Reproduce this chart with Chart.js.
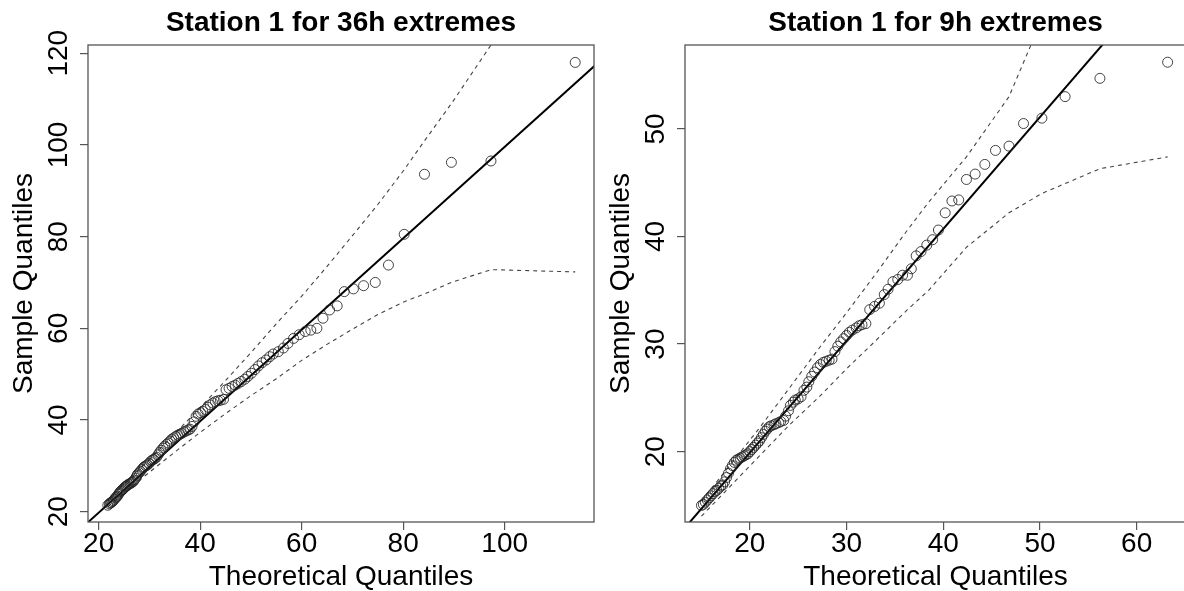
<!DOCTYPE html>
<html lang="en">
<head>
<meta charset="UTF-8">
<title>Station 1 QQ plots</title>
<style>
  html, body { margin: 0; padding: 0; background: #fff; overflow: hidden; }
  .panel { position: absolute; top: 0; height: 591px; }
  #p1 { left: 0; width: 600px; }
  #p2 { left: 597px; width: 595px; }
</style>
</head>
<body>
<div class="panel" id="p1"><canvas id="c1"></canvas></div>
<div class="panel" id="p2"><canvas id="c2"></canvas></div>

<script src="https://cdn.jsdelivr.net/npm/chart.js"></script>
<script>
// ---- 36h extremes (left) ----
const q36 = [21.8,22.1,22.3,22.5,22.7,22.9,23.1,23.3,23.5,23.7,23.9,24.1,24.3,24.5,24.7,24.9,25.1,25.3,25.5,25.7,
  25.9,26.2,26.4,26.6,26.8,27.0,27.3,27.5,27.7,28.0,28.2,28.5,28.8,29.0,29.3,29.6,29.9,30.2,30.5,30.8,
  31.1,31.4,31.7,32.0,32.3,32.7,33.0,33.4,33.7,34.1,34.4,34.8,35.2,35.6,36.0,36.4,36.8,37.2,37.6,38.0,
  38.4,38.8,39.2,39.6,40.1,40.5,41.0,41.5,42.0,42.5,43.0,43.5,44.0,44.6,45.1,45.7,46.3,46.9,47.5,48.1,
  48.8,49.4,50.1,50.8,51.5,52.2,53.0,53.7,54.4,55.4,56.4,57.3,58.4,59.5,60.7,61.8,63.0,64.2,65.5,67.0,
  68.4,70.2,72.2,74.5,77.1,80.2,84.2,89.5,97.3,113.9];
const s36 = [21.4,21.7,21.9,22.0,22.2,22.4,22.7,23.0,23.2,23.4,23.8,24.1,24.4,24.6,24.8,25.0,25.3,25.5,25.6,25.8,
  26.0,26.1,26.3,26.4,26.6,26.9,27.3,27.8,28.2,28.5,28.8,29.2,29.6,29.8,30.0,30.2,30.5,30.9,31.2,31.4,
  31.6,31.9,32.4,32.9,33.4,33.9,34.3,34.7,35.0,35.4,35.8,36.1,36.4,36.7,36.9,37.1,37.4,37.6,37.8,38.0,
  38.6,39.6,40.8,41.3,41.6,41.9,42.3,42.8,43.3,43.7,44.0,44.2,44.3,44.5,46.6,46.9,47.3,47.6,48.0,48.4,
  48.9,49.5,50.2,51.0,51.8,52.5,53.1,53.8,54.4,54.9,55.7,56.7,57.8,58.6,59.3,59.6,60.0,62.2,64.0,64.9,
  68.0,68.6,69.3,70.0,73.8,80.5,93.6,96.2,96.5,118.0];
const env36X  = [21.8,25,28,31,35,40,45,50,55,60,65,70,75,80.2,84.2,89.5,97.3,113.9];
const env36Lo = [21.1,24.0,26.8,29.5,33.0,37.3,41.4,45.3,49.0,53.0,56.5,59.8,63.0,65.8,67.5,70.0,72.8,72.3];
const env36Hi = [22.5,26.0,29.2,32.5,37.0,42.7,48.6,54.7,61.0,67.0,73.5,80.2,87.0,94.6,100.9,109.0,121.8,155.5];
const fit36X = [15, 125];
const fit36Y = [14.8, 124.5];
const xTicks36 = [20, 40, 60, 80, 100];
const yTicks36 = [20, 40, 60, 80, 100, 120];

// ---- 9h extremes (right) ----
const q9 = [15.0,15.2,15.4,15.6,15.8,16.0,16.2,16.4,16.6,16.8,17.0,17.2,17.4,17.6,17.8,18.0,18.2,18.4,18.6,18.8,
  19.0,19.2,19.4,19.6,19.8,20.0,20.2,20.4,20.6,20.8,21.0,21.2,21.4,21.6,21.8,22.0,22.2,22.5,22.7,23.0,
  23.2,23.5,23.7,24.0,24.2,24.5,24.7,25.0,25.3,25.6,25.9,26.1,26.4,26.7,27.0,27.3,27.6,27.9,28.2,28.5,
  28.8,29.1,29.4,29.7,30.0,30.3,30.6,31.0,31.3,31.6,32.0,32.4,32.9,33.4,33.9,34.3,34.8,35.3,35.8,36.3,
  36.7,37.2,37.7,38.3,38.9,39.5,40.2,40.9,41.6,42.4,43.3,44.3,45.4,46.8,48.3,50.2,52.6,56.2,63.2];
const s9 = [15.0,15.1,15.3,15.5,15.7,15.9,16.1,16.3,16.4,16.6,16.8,16.9,17.2,17.6,18.0,18.4,18.7,19.0,19.2,19.3,
  19.4,19.5,19.6,19.7,19.8,20.0,20.2,20.4,20.6,20.8,21.0,21.3,21.6,21.9,22.1,22.3,22.4,22.5,22.6,22.7,
  22.8,22.9,23.3,23.8,24.3,24.6,24.8,24.9,25.1,25.7,26.0,26.5,27.0,27.4,27.8,28.1,28.3,28.4,28.5,28.6,
  29.3,29.8,30.2,30.5,30.8,31.1,31.3,31.5,31.7,31.8,31.9,33.2,33.5,33.8,34.6,35.1,35.8,36.0,36.4,36.4,
  37.0,38.2,38.6,39.2,39.7,40.6,42.2,43.3,43.4,45.3,45.8,46.7,48.0,48.4,50.5,51.0,53.0,54.7,56.2];
const env9X  = [15.0,18.0,21.0,24.0,27.4,30.0,33.0,36.3,38.5,42.4,46.8,50.2,56.2,63.2];
const env9Lo = [14.0,16.8,19.6,22.4,25.3,27.7,30.3,33.2,35.0,39.0,42.2,44.0,46.3,47.4];
const env9Hi = [15.4,18.8,22.2,25.8,29.9,32.9,36.5,40.6,43.2,47.4,53.0,60.2,68.7,82.2];
const fit9X = [12, 70];
const fit9Y = [11.58, 71.9];
const xTicks9 = [20, 30, 40, 50, 60];
const yTicks9 = [20, 30, 40, 50];

const FONT = '"Liberation Sans", Arial, Helvetica, sans-serif';

const pairs = (xs, ys) => xs.map((x, i) => ({x: x, y: ys[i]}));

// box around plot area, title over the box, R-style tick labels (y labels rotated)
const rStyle = {
  id: 'rStyle',
  afterDraw(chart) {
    const {ctx, chartArea: a, scales} = chart;
    ctx.save();
    ctx.strokeStyle = '#555';
    ctx.lineWidth = 1.3;
    ctx.strokeRect(a.left, a.top, a.right - a.left, a.bottom - a.top);
    ctx.fillStyle = '#000';
    ctx.textAlign = 'center';
    ctx.textBaseline = 'middle';
    ctx.font = 'bold 28px ' + FONT;
    ctx.fillText(chart.options.plugins.rStyle.title, (a.left + a.right) / 2, 23);
    ctx.font = '28px ' + FONT;
    scales.x.ticks.forEach(t => {
      ctx.fillText(String(t.value), scales.x.getPixelForValue(t.value), a.bottom + 22);
    });
    scales.y.ticks.forEach(t => {
      ctx.save();
      ctx.translate(a.left - 29, scales.y.getPixelForValue(t.value));
      ctx.rotate(-Math.PI / 2);
      ctx.fillText(String(t.value), 0, 0);
      ctx.restore();
    });
    ctx.restore();
  }
};

function qqChart(id, title, q, s, envX, envLo, envHi, fitX, fitY, xr, yr, xt, yt) {
  return new Chart(document.getElementById(id), {
    type: 'scatter',
    data: {
      datasets: [
        { data: pairs(q, s), pointStyle: 'circle', pointRadius: 5, borderWidth: 1,
          borderColor: 'rgba(35,35,35,0.85)', backgroundColor: 'rgba(0,0,0,0)' },
        { data: pairs(fitX, fitY), showLine: true, pointRadius: 0, borderColor: '#000', borderWidth: 2 },
        { data: pairs(envX, envHi), showLine: true, pointRadius: 0, borderColor: '#444', borderWidth: 1.1, borderDash: [4, 4] },
        { data: pairs(envX, envLo), showLine: true, pointRadius: 0, borderColor: '#444', borderWidth: 1.1, borderDash: [4, 4] }
      ]
    },
    options: {
      responsive: true,
      maintainAspectRatio: false,
      animation: false,
      layout: { padding: { left: 0, right: 2, top: 45, bottom: 0 } },
      plugins: {
        legend: { display: false },
        tooltip: { enabled: false },
        title: { display: false },
        rStyle: { title: title }
      },
      scales: {
        x: {
          type: 'linear', min: xr[0], max: xr[1],
          afterBuildTicks: sc => { sc.ticks = xt.map(v => ({value: v})); },
          afterFit: sc => { sc.height = 69; },
          ticks: { display: false },
          grid: { drawOnChartArea: false, drawTicks: true, tickLength: 8, color: '#555', lineWidth: 1.2 },
          border: { display: false },
          title: { display: true, text: 'Theoretical Quantiles', color: '#000',
            font: { family: FONT, size: 28, lineHeight: 1 }, padding: { top: 0, bottom: 0 } }
        },
        y: {
          type: 'linear', min: yr[0], max: yr[1],
          afterBuildTicks: sc => { sc.ticks = yt.map(v => ({value: v})); },
          afterFit: sc => { sc.width = 88; },
          ticks: { display: false },
          grid: { drawOnChartArea: false, drawTicks: true, tickLength: 8, color: '#555', lineWidth: 1.2 },
          border: { display: false },
          title: { display: true, text: 'Sample Quantiles', color: '#000',
            font: { family: FONT, size: 28, lineHeight: 1 }, padding: { top: 10, bottom: 0 } }
        }
      }
    },
    plugins: [rStyle]
  });
}

qqChart('c1', 'Station 1 for 36h extremes', q36, s36, env36X, env36Lo, env36Hi, fit36X, fit36Y,
  [17.9, 117.6], [17.75, 121.8], xTicks36, yTicks36);
qqChart('c2', 'Station 1 for 9h extremes', q9, s9, env9X, env9Lo, env9Hi, fit9X, fit9Y,
  [13.3, 65.1], [13.46, 57.8], xTicks9, yTicks9);
</script>
</body>
</html>
